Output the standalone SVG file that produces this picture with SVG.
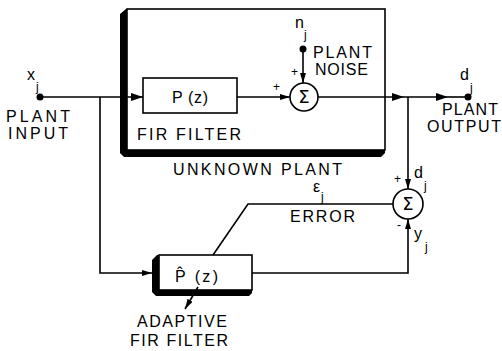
<svg xmlns="http://www.w3.org/2000/svg" width="502" height="351" viewBox="0 0 502 351">
<style>
.ln{fill:none;stroke:#000;stroke-width:1.6}
.bx{fill:#fff;stroke:#000;stroke-width:1.6}
.sh{fill:#000;stroke:none}
.t{font-family:"Liberation Sans",Arial,sans-serif;font-size:16px;fill:#000}
.m{font-family:"Liberation Sans",Arial,sans-serif;font-size:16px;fill:#000}
.s{font-family:"Liberation Sans",Arial,sans-serif;font-size:12px;fill:#000}
.sig{font-family:"DejaVu Sans","Liberation Sans",sans-serif;font-size:18px;fill:#000;text-anchor:middle}
.dot{fill:#000}
</style>
<defs>
<marker id="ah" viewBox="0 0 12 8" refX="12" refY="4" markerWidth="12" markerHeight="8" markerUnits="userSpaceOnUse" orient="auto">
<path d="M0,0 L12,4 L0,8 Z" fill="#000"/>
</marker>
<marker id="ahs" viewBox="0 0 10 6" refX="10" refY="3" markerWidth="10" markerHeight="6" markerUnits="userSpaceOnUse" orient="auto">
<path d="M0,0 L10,3 L0,6 Z" fill="#000"/>
</marker>
</defs>

<g id="unknown-plant">
<rect class="bx" x="127" y="9" width="258" height="141" fill="none"/>
<path class="sh" d="M120,14 L126,9 L127,9 L127,150 L385,150 L385,153 L381,157 L124,157 L120,153 Z"/>
<text class="t" x="173" y="175" textLength="169" lengthAdjust="spacing">UNKNOWN  PLANT</text>
</g>

<g id="fir-filter">
<rect class="bx" x="143" y="78" width="94" height="35"/>
<text class="m" x="172" y="103" textLength="36" lengthAdjust="spacing">P (z)</text>
<text class="t" x="137" y="140" textLength="104" lengthAdjust="spacing">FIR  FILTER</text>
</g>

<g id="sum1">
<circle class="bx" cx="304" cy="97" r="14"/>
<text class="sig" x="304" y="103">Σ</text>
<text class="s" x="273" y="91">+</text>
<text class="s" x="291" y="76">+</text>
</g>

<g id="plant-noise">
<circle class="dot" cx="303" cy="49" r="3.5"/>
<text class="m" x="295" y="28">n</text>
<text class="s" x="304" y="39">j</text>
<text class="t" x="313" y="58" textLength="59" lengthAdjust="spacing">PLANT</text>
<text class="t" x="315" y="75" textLength="53" lengthAdjust="spacing">NOISE</text>
</g>

<g id="plant-input">
<circle class="dot" cx="40" cy="97" r="3.5"/>
<text class="m" x="27" y="80">x</text>
<text class="s" x="36" y="91">j</text>
<text class="t" x="6" y="122" textLength="64" lengthAdjust="spacing">PLANT</text>
<text class="t" x="8" y="139" textLength="60" lengthAdjust="spacing">INPUT</text>
</g>

<g id="plant-output">
<circle class="dot" cx="468" cy="97" r="3.5"/>
<text class="m" x="460" y="80">d</text>
<text class="s" x="470" y="92">j</text>
<text class="t" x="442" y="115" textLength="56" lengthAdjust="spacing">PLANT</text>
<text class="t" x="427" y="132" textLength="74" lengthAdjust="spacing">OUTPUT</text>
</g>

<g id="sum2">
<circle class="bx" cx="408" cy="204" r="15"/>
<text class="sig" x="408" y="210">Σ</text>
<text class="s" x="394" y="183">+</text>
<text class="m" x="414" y="178">d</text>
<text class="s" x="424" y="190">j</text>
<text class="s" x="397" y="229">-</text>
<text class="m" x="414" y="239">y</text>
<text class="s" x="425" y="251">j</text>
</g>

<g id="error">
<text class="m" x="313" y="192">ε</text>
<text class="s" x="321" y="201">j</text>
<text class="t" x="290" y="222" textLength="65" lengthAdjust="spacing">ERROR</text>
</g>

<g id="adaptive-filter">
<rect class="bx" x="159" y="255" width="93" height="35"/>
<path class="sh" d="M152,260 L157,255 L159,255 L159,290 L252,290 L252,293 L249,296 L156,296 L152,292 Z"/>
<text class="m" x="175" y="282" textLength="43" lengthAdjust="spacing">P̂ (z)</text>
<text class="t" x="137" y="327" textLength="90" lengthAdjust="spacing">ADAPTIVE</text>
<text class="t" x="130" y="346" textLength="98" lengthAdjust="spacing">FIR  FILTER</text>
</g>

<g id="connectors">
<path class="ln" d="M40,97 H143" marker-end="url(#ah)"/>
<path class="ln" d="M100,97 V273 H152" marker-end="url(#ahs)"/>
<path class="ln" d="M237,97 H290" marker-end="url(#ahs)"/>
<path class="ln" d="M303,49 V83" marker-end="url(#ahs)"/>
<path class="ln" d="M318,97 H404" marker-end="url(#ah)"/>
<path class="ln" d="M404,97 H448" marker-end="url(#ah)"/>
<path class="ln" d="M448,97 H468"/>
<path class="ln" d="M408,97 V189" marker-end="url(#ahs)"/>
<path class="ln" d="M393,204 H248 L213,255"/>
<path class="ln" d="M252,273 H408 V219" marker-end="url(#ahs)"/>
<path class="ln" d="M198,287 L185,309" marker-end="url(#ahs)"/>
</g>
</svg>
